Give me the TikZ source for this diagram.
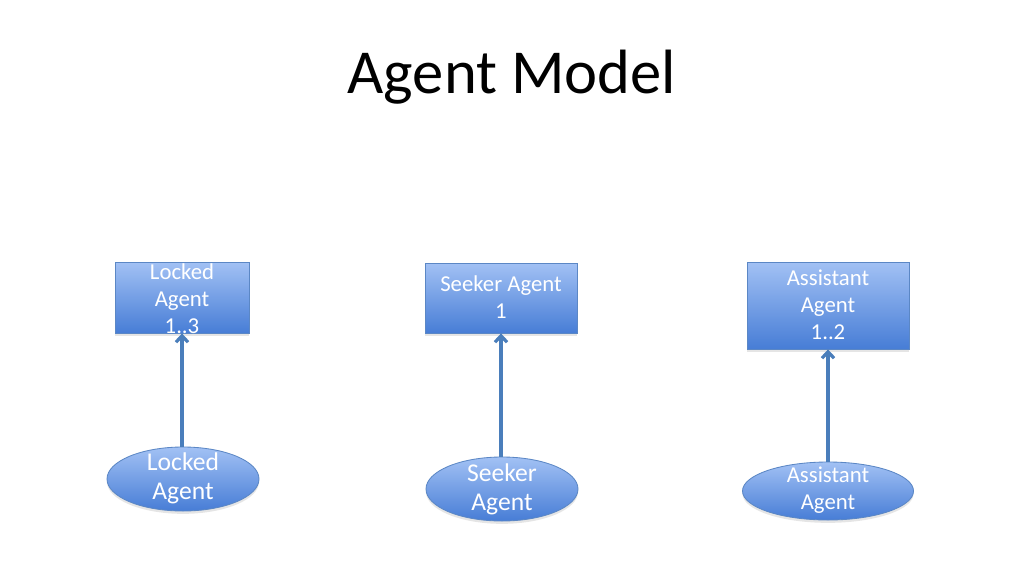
\documentclass[tikz,border=0pt]{standalone}
\usepackage{fontspec}
\setmainfont{Carlito}
\usetikzlibrary{arrows.meta,shapes.geometric,shadows}
\definecolor{topblue}{HTML}{A2C1F4}
\definecolor{botblue}{HTML}{477DD6}
\definecolor{edgeblue}{HTML}{5B87C5}
\definecolor{arrowblue}{HTML}{4A7EBB}
\tikzset{
  box/.style={rectangle, draw=edgeblue, line width=0.6pt, top color=topblue, bottom color=botblue, inner sep=0pt,
    drop shadow={opacity=0.2, shadow xshift=0pt, shadow yshift=-2pt}},
  oval/.style={ellipse, draw=edgeblue, line width=0.6pt, top color=topblue, bottom color=botblue, inner sep=0pt,
    drop shadow={opacity=0.2, shadow xshift=0pt, shadow yshift=-2pt}},
  boxtext/.style={text=white, align=center, font=\fontsize{16}{19}\selectfont, inner sep=0pt},
  ovaltext/.style={text=white, align=center, font=\fontsize{18}{20.4}\selectfont, inner sep=0pt},
  link/.style={draw=arrowblue, line width=2.3pt, -{Straight Barb[length=4.5pt,width=8.5pt]}},
}
\begin{document}
\begin{tikzpicture}[x=0.703125pt,y=-0.703125pt]
\useasboundingbox[fill=white] (0,0) rectangle (1024,576);
\node[font=\fontsize{44}{52}\selectfont, anchor=base] (title) at (512,93) {Agent Model};

% boxes
\node[box, minimum width=134*0.703125pt, minimum height=71*0.703125pt] (lb) at (182,297.5) {};
\node[box, minimum width=152*0.703125pt, minimum height=70*0.703125pt] (sb) at (501,298) {};
\node[box, minimum width=162*0.703125pt, minimum height=87*0.703125pt] (ab) at (828,305.5) {};
\node[boxtext] (lbt) at (182,299) {Locked\\Agent\\1..3};
\node[boxtext] (sbt) at (501,297) {Seeker Agent\\1};
\node[boxtext] (abt) at (828,305) {Assistant\\Agent\\1..2};

% ellipses
\node[oval, minimum width=152*0.703125pt, minimum height=64*0.703125pt] (le) at (183,479) {};
\node[oval, minimum width=152*0.703125pt, minimum height=64*0.703125pt] (se) at (502,489) {};
\node[oval, minimum width=171*0.703125pt, minimum height=58*0.703125pt] (ae) at (828,491) {};
\node[ovaltext] (let) at (183,478) {Locked\\Agent};
\node[ovaltext] (set) at (502,489) {Seeker\\Agent};
\node[boxtext] (aet) at (828,490) {Assistant\\Agent};

% connectors
\draw[link] (le.north -| lb.south) -- (lb.south);
\draw[link] (se.north -| sb.south) -- (sb.south);
\draw[link] (ae.north) -- (ab.south);
\end{tikzpicture}
\end{document}
